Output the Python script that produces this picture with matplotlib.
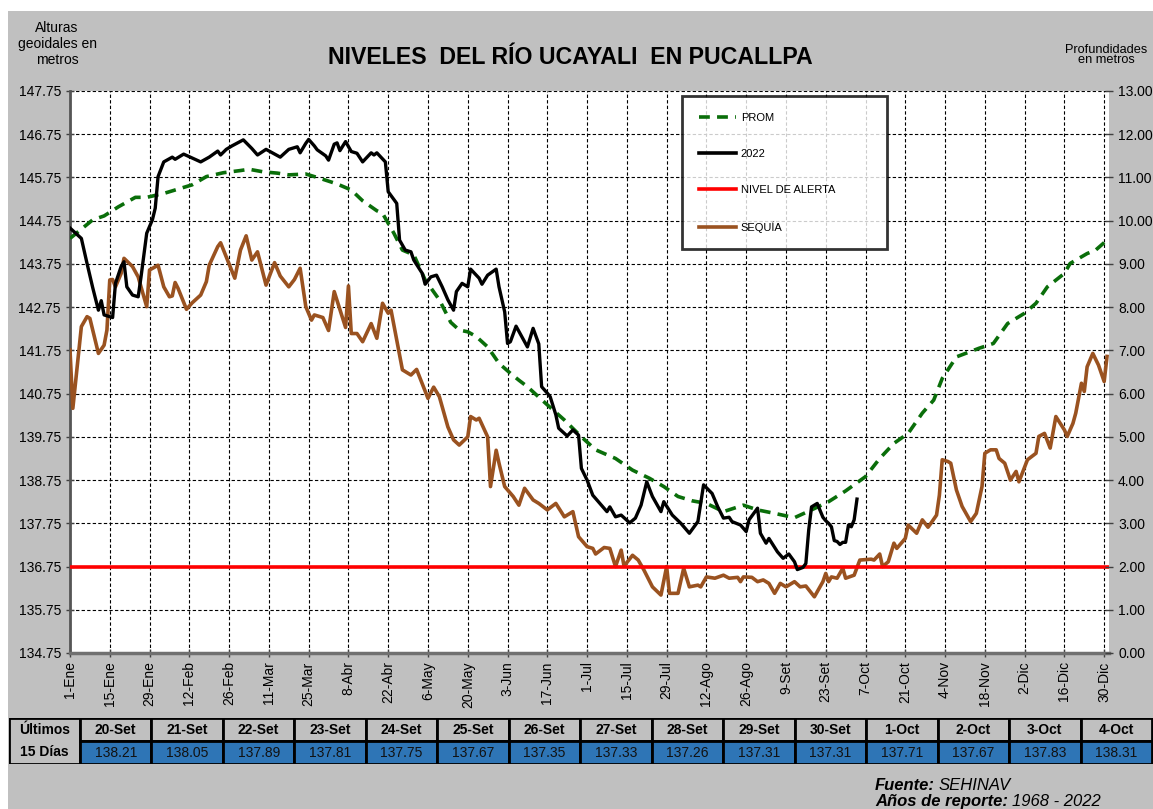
import numpy as np
import matplotlib
matplotlib.use("Agg")
import matplotlib.pyplot as plt
from matplotlib.patches import Rectangle
from matplotlib.lines import Line2D

plt.rcParams['font.family'] = ['Liberation Sans', 'DejaVu Sans']

# ---- datos (dia del año, 0 = 1-Ene, año de 366 dias) ----
dias_prom = [0, 8, 12, 17, 23, 27, 33, 39, 43, 48, 54, 60, 63, 68, 73, 77, 83, 88, 94, 99,
             103, 108, 110, 114, 117, 121, 125, 130, 134, 137, 140, 143, 147, 151, 155, 158,
             161, 168, 174, 180, 185, 192, 198, 204, 209, 214, 219, 224, 230, 237, 242, 248,
             255, 261, 267, 273, 280, 285, 290, 295, 300, 304, 307, 312, 316, 320, 325, 330,
             336, 340, 344, 350, 352, 358, 361, 365]
nivel_prom = [144.34, 144.77, 144.86, 145.07, 145.29, 145.29, 145.38, 145.50, 145.58, 145.77,
              145.86, 145.91, 145.94, 145.88, 145.85, 145.81, 145.83, 145.73, 145.60, 145.46,
              145.21, 144.98, 144.92, 144.46, 144.07, 143.96, 143.38, 142.92, 142.40, 142.22,
              142.18, 142.07, 141.83, 141.45, 141.22, 141.06, 140.91, 140.49, 140.14, 139.75,
              139.45, 139.25, 138.98, 138.79, 138.60, 138.37, 138.27, 138.21, 138.02, 138.17,
              138.06, 137.98, 137.88, 138.06, 138.25, 138.50, 138.83, 139.25, 139.60, 139.83,
              140.30, 140.60, 141.10, 141.60, 141.70, 141.80, 141.91, 142.37, 142.61, 142.84,
              143.22, 143.53, 143.76, 143.99, 144.07, 144.30]

dias_2022 = [0, 4, 6, 8, 10, 11, 12, 15, 16, 18, 19, 20, 22, 24, 25, 27, 29, 30, 31, 33,
             36, 37, 40, 46, 49, 52, 53, 55, 57, 61, 64, 66, 69, 74, 77, 80, 81, 83, 84, 86,
             87, 90, 91, 93, 94, 95, 97, 99, 101, 103, 106, 107, 108, 111, 112, 115, 116, 118,
             120, 121, 124, 125, 127, 129, 131, 133, 135, 136, 138, 140, 141, 144, 145, 147,
             150, 151, 153, 154, 155, 157, 159, 161, 163, 165, 166, 168, 169, 171, 172, 175,
             177, 179, 180, 182, 184, 189, 190, 192, 194, 197, 199, 201, 203, 205, 208, 209,
             212, 215, 218, 221, 223, 226, 228, 230, 232, 233, 236, 238, 239, 242, 243, 245,
             246, 249, 251, 253, 255, 256, 258, 259, 260, 261,
             263, 264, 265, 266, 267, 268, 269, 270, 271, 272, 273, 274, 275, 276, 277]
nivel_2022 = [144.58, 144.34, 143.76, 143.20, 142.68, 142.90, 142.57, 142.51, 143.30, 143.69,
              143.80, 143.22, 143.03, 142.99, 143.45, 144.46, 144.77, 145.04, 145.77, 146.11,
              146.22, 146.17, 146.29, 146.11, 146.22, 146.36, 146.27, 146.40, 146.48, 146.62,
              146.42, 146.27, 146.40, 146.22, 146.40, 146.46, 146.32, 146.54, 146.63, 146.48,
              146.39, 146.25, 146.15, 146.52, 146.55, 146.37, 146.58, 146.35, 146.31, 146.11,
              146.32, 146.27, 146.32, 146.11, 145.42, 145.15, 144.30, 144.07, 144.03, 143.84,
              143.53, 143.28, 143.45, 143.49, 143.22, 142.92, 142.68, 143.11, 143.30, 143.22,
              143.63, 143.42, 143.28, 143.49, 143.63, 143.22, 142.64, 141.91, 141.95, 142.31,
              142.07, 141.83, 142.26, 141.90, 140.91, 140.76, 140.68, 140.26, 139.95, 139.77,
              139.91, 139.79, 139.02, 138.75, 138.40, 138.02, 138.13, 137.90, 137.94, 137.76,
              137.87, 138.17, 138.71, 138.37, 138.02, 138.25, 137.94, 137.75, 137.52, 137.79,
              138.64, 138.44, 138.13, 137.87, 137.89, 137.79, 137.71, 137.56, 137.83, 138.10,
              137.52, 137.29, 137.40, 137.09, 136.94, 137.04, 136.86, 136.68, 136.73, 136.82,
              137.59, 138.13,
              138.21, 138.05, 137.89, 137.81, 137.75, 137.67, 137.35, 137.33, 137.26, 137.31,
              137.31, 137.71, 137.67, 137.83, 138.31]

dias_sequia = [0, 1, 4, 6, 7, 8, 10, 12, 13, 14, 15, 16, 18, 19, 22, 24, 27, 28, 31, 33,
               35, 36, 37, 38, 41, 43, 46, 48, 49, 52, 53, 58, 60, 62, 64, 66, 69, 72, 74, 77,
               79, 81, 83, 85, 86, 89, 91, 93, 97, 98, 99, 101, 103, 106, 108, 110, 112, 113,
               117, 120, 122, 126, 128, 130, 133, 135, 137, 140, 141, 143, 144, 147, 148, 150,
               151, 153, 156, 158, 160, 163, 165, 168, 171, 174, 177, 179, 182, 184, 185, 188,
               190, 192, 194, 195, 198, 200, 202, 205, 208, 210, 211, 214, 216, 218, 221, 222,
               224, 227, 230, 232, 235, 236, 237, 240, 242, 244, 246, 248, 250, 252, 255, 257,
               259, 262, 265, 266, 267, 268, 270, 272, 273, 276, 278, 282, 283, 285, 286, 288,
               290, 291, 294, 295, 298, 300, 302, 303, 305, 306, 307, 309, 310, 312, 314, 317,
               319, 321, 322, 324, 326, 327, 329, 331, 333, 334, 337, 340, 341, 343, 345, 347,
               350, 351, 353, 354, 356, 357, 358, 360, 362, 364, 365]
nivel_sequia = [141.76, 140.41, 142.30, 142.53, 142.49, 142.22, 141.68, 141.87, 142.22, 143.38,
                143.39, 143.22, 143.53, 143.88, 143.69, 143.45, 142.76, 143.61, 143.72, 143.22,
                142.99, 143.01, 143.32, 143.19, 142.70, 142.85, 143.03, 143.34, 143.72, 144.15,
                144.24, 143.42, 144.07, 144.40, 143.84, 144.03, 143.26, 143.78, 143.47, 143.22,
                143.39, 143.65, 142.76, 142.45, 142.57, 142.51, 142.21, 143.11, 142.28, 143.24,
                142.14, 142.14, 141.95, 142.37, 142.03, 142.84, 142.61, 142.68, 141.30, 141.18,
                141.31, 140.64, 140.90, 140.68, 139.98, 139.68, 139.56, 139.75, 140.22, 140.14,
                140.18, 139.75, 138.60, 139.44, 139.14, 138.60, 138.37, 138.17, 138.56, 138.29,
                138.21, 138.06, 138.21, 137.90, 138.02, 137.44, 137.21, 137.17, 137.04, 137.19,
                137.17, 136.75, 137.13, 136.76, 137.01, 136.90, 136.67, 136.28, 136.09, 136.75,
                136.13, 136.13, 136.71, 136.28, 136.32, 136.28, 136.51, 136.48, 136.55, 136.48,
                136.50, 136.40, 136.51, 136.50, 136.40, 136.44, 136.36, 136.13, 136.36, 136.28,
                136.40, 136.28, 136.30, 136.05, 136.40, 136.59, 136.40, 136.51, 136.48, 136.71,
                136.48, 136.55, 136.90, 136.92, 136.90, 137.04, 136.75, 136.86, 137.29, 137.17,
                137.40, 137.71, 137.52, 137.83, 137.66, 137.75, 137.94, 138.40, 139.22, 139.18,
                139.14, 138.52, 138.14, 137.79, 137.98, 138.60, 139.37, 139.45, 139.45, 139.25,
                139.14, 138.75, 138.95, 138.71, 139.22, 139.37, 139.76, 139.83, 139.49, 140.22,
                139.91, 139.76, 140.06, 140.30, 140.99, 140.80, 141.37, 141.68, 141.41, 141.03,
                141.61]

nivel_alerta = 136.75

dias_ticks = list(range(0, 365, 14))
etiquetas_x = ['1-Ene', '15-Ene', '29-Ene', '12-Feb', '26-Feb', '11-Mar', '25-Mar', '8-Abr',
               '22-Abr', '6-May', '20-May', '3-Jun', '17-Jun', '1-Jul', '15-Jul', '29-Jul',
               '12-Ago', '26-Ago', '9-Set', '23-Set', '7-Oct', '21-Oct', '4-Nov', '18-Nov',
               '2-Dic', '16-Dic', '30-Dic']

fechas_tabla = ['20-Set', '21-Set', '22-Set', '23-Set', '24-Set', '25-Set', '26-Set', '27-Set',
                '28-Set', '29-Set', '30-Set', '1-Oct', '2-Oct', '3-Oct', '4-Oct']
valores_tabla = [138.21, 138.05, 137.89, 137.81, 137.75, 137.67, 137.35, 137.33, 137.26,
                 137.31, 137.31, 137.71, 137.67, 137.83, 138.31]

W, H = 1153, 809
GRIS = '#C0C0C0'

fig = plt.figure(figsize=(W / 100, H / 100), dpi=100, facecolor='white')
fig.patches.append(Rectangle((8 / W, 0), 1 - 8 / W, (H - 11) / H, transform=fig.transFigure,
                             facecolor=GRIS, edgecolor='none', zorder=-10))

# ---- grafico principal ----
ax = fig.add_axes([70 / W, 1 - 653 / H, (1109 - 70) / W, (653 - 91) / H])
ax.set_facecolor('white')
ax.set_xlim(0, 365.7)
ax.set_ylim(134.75, 147.75)
ax.set_yticks(np.arange(134.75, 147.76, 1.0))
ax.yaxis.set_major_formatter(matplotlib.ticker.FormatStrFormatter('%.2f'))
ax.set_xticks(dias_ticks)
ax.set_xticklabels(etiquetas_x, rotation=90, fontsize=10)
ax.tick_params(axis='y', labelsize=10, direction='inout', length=6, width=1, colors='#404040',
               labelcolor='black')
ax.tick_params(axis='x', direction='inout', length=6, width=1, colors='#404040',
               labelcolor='black', pad=3)
ax.grid(True, color='black', linestyle=(0, (3, 2)), linewidth=0.8)
ax.set_axisbelow(True)
for s in ['top', 'right']:
    ax.spines[s].set_visible(False)
ax.spines['left'].set_color('#555555')
ax.spines['left'].set_linewidth(2)
ax.spines['bottom'].set_color('#707070')
ax.spines['bottom'].set_linewidth(2.5)

ax.plot(dias_sequia, nivel_sequia, color='#9A5220', linewidth=2.6, zorder=3)
ax.axhline(nivel_alerta, color='#FF0000', linewidth=2.6, zorder=4)
ax.plot(dias_prom, nivel_prom, color='#0A6E0A', linewidth=2.6, linestyle=(0, (3, 2)), zorder=5)
ax.plot(dias_2022, nivel_2022, color='black', linewidth=2.4, zorder=6)

handles = [Line2D([], [], color='#0A6E0A', linewidth=2.6, linestyle=(0, (3, 2))),
           Line2D([], [], color='black', linewidth=2.6),
           Line2D([], [], color='#FF0000', linewidth=2.6),
           Line2D([], [], color='#9A5220', linewidth=2.6)]
leg = ax.legend(handles, ['PROM', '2022', 'NIVEL DE ALERTA', 'SEQUÍA'],
                loc='upper left', bbox_to_anchor=(0.589, 0.991, 0.197, 0.0), mode='expand',
                fontsize=8, frameon=True, fancybox=False, borderpad=1.5, labelspacing=2.35,
                handlelength=3.4, handletextpad=0.4, borderaxespad=0)
leg.get_frame().set_edgecolor('black')
leg.get_frame().set_linewidth(2)
leg.set_zorder(10)

# eje derecho de profundidades
ax2 = ax.twinx()
ax2.set_ylim(0, 13)
ax2.set_yticks(np.arange(0, 13.01, 1.0))
ax2.yaxis.set_major_formatter(matplotlib.ticker.FormatStrFormatter('%.2f'))
ax2.tick_params(axis='y', labelsize=10, direction='inout', length=6, width=1, colors='#404040',
                labelcolor='black')
for s in ['top', 'right', 'left', 'bottom']:
    ax2.spines[s].set_visible(False)

# textos
fig.text(570 / W, 1 - 57 / H, 'NIVELES  DEL RÍO UCAYALI  EN PUCALLPA', ha='center',
         va='center', fontsize=16.7, fontweight='bold')
fig.text(57 / W, 1 - 44 / H, 'Alturas\ngeoidales en\nmetros', ha='center', va='center',
         fontsize=10, linespacing=1.15)
fig.text(1106 / W, 1 - 55 / H, 'Profundidades\nen metros', ha='center', va='center',
         fontsize=9.2, linespacing=0.85)

# ---- tabla de los ultimos 15 dias ----
tab = fig.add_axes([9 / W, 1 - 764 / H, (1153 - 9) / W, (764 - 718) / H])
tab.set_xlim(9, 1153)
tab.set_ylim(0, 2)
tab.axis('off')
col0 = 80 - 9
ancho = (1152 - 80) / len(fechas_tabla)
tab.add_patch(Rectangle((9, 0), col0, 2, facecolor=GRIS, edgecolor='black', linewidth=2))
tab.text(9 + col0 / 2, 1.5, 'Últimos', ha='center', va='center', fontsize=10, fontweight='bold')
tab.text(9 + col0 / 2, 0.5, '15 Días', ha='center', va='center', fontsize=10, fontweight='bold')
for i, (f, v) in enumerate(zip(fechas_tabla, valores_tabla)):
    x0 = 80 + i * ancho
    tab.add_patch(Rectangle((x0, 1), ancho, 1, facecolor=GRIS, edgecolor='black', linewidth=2))
    tab.add_patch(Rectangle((x0, 0), ancho, 1, facecolor='#2E75B6', edgecolor='black',
                            linewidth=2))
    tab.text(x0 + ancho / 2, 1.5, f, ha='center', va='center', fontsize=10, fontweight='bold')
    tab.text(x0 + ancho / 2, 0.48, f'{v:.2f}', ha='center', va='center', fontsize=10,
             color='#111111')

# fuente (parte en negrita + parte normal, en cursiva)
renderer = fig.canvas.get_renderer()


def texto_mixto(x_px, y_px, negrita, normal):
    t = fig.text(x_px / W, 1 - y_px / H, negrita, ha='left', va='baseline', fontsize=12,
                 fontweight='bold', style='italic')
    ancho_px = t.get_window_extent(renderer).width
    fig.text((x_px + ancho_px + 4) / W, 1 - y_px / H, normal, ha='left', va='baseline',
             fontsize=12, style='italic')


texto_mixto(875, 790, 'Fuente:', 'SEHINAV')
texto_mixto(875, 806, 'Años de reporte:', '1968 - 2022')

fig.savefig('out.png', dpi=100, facecolor=fig.get_facecolor())
